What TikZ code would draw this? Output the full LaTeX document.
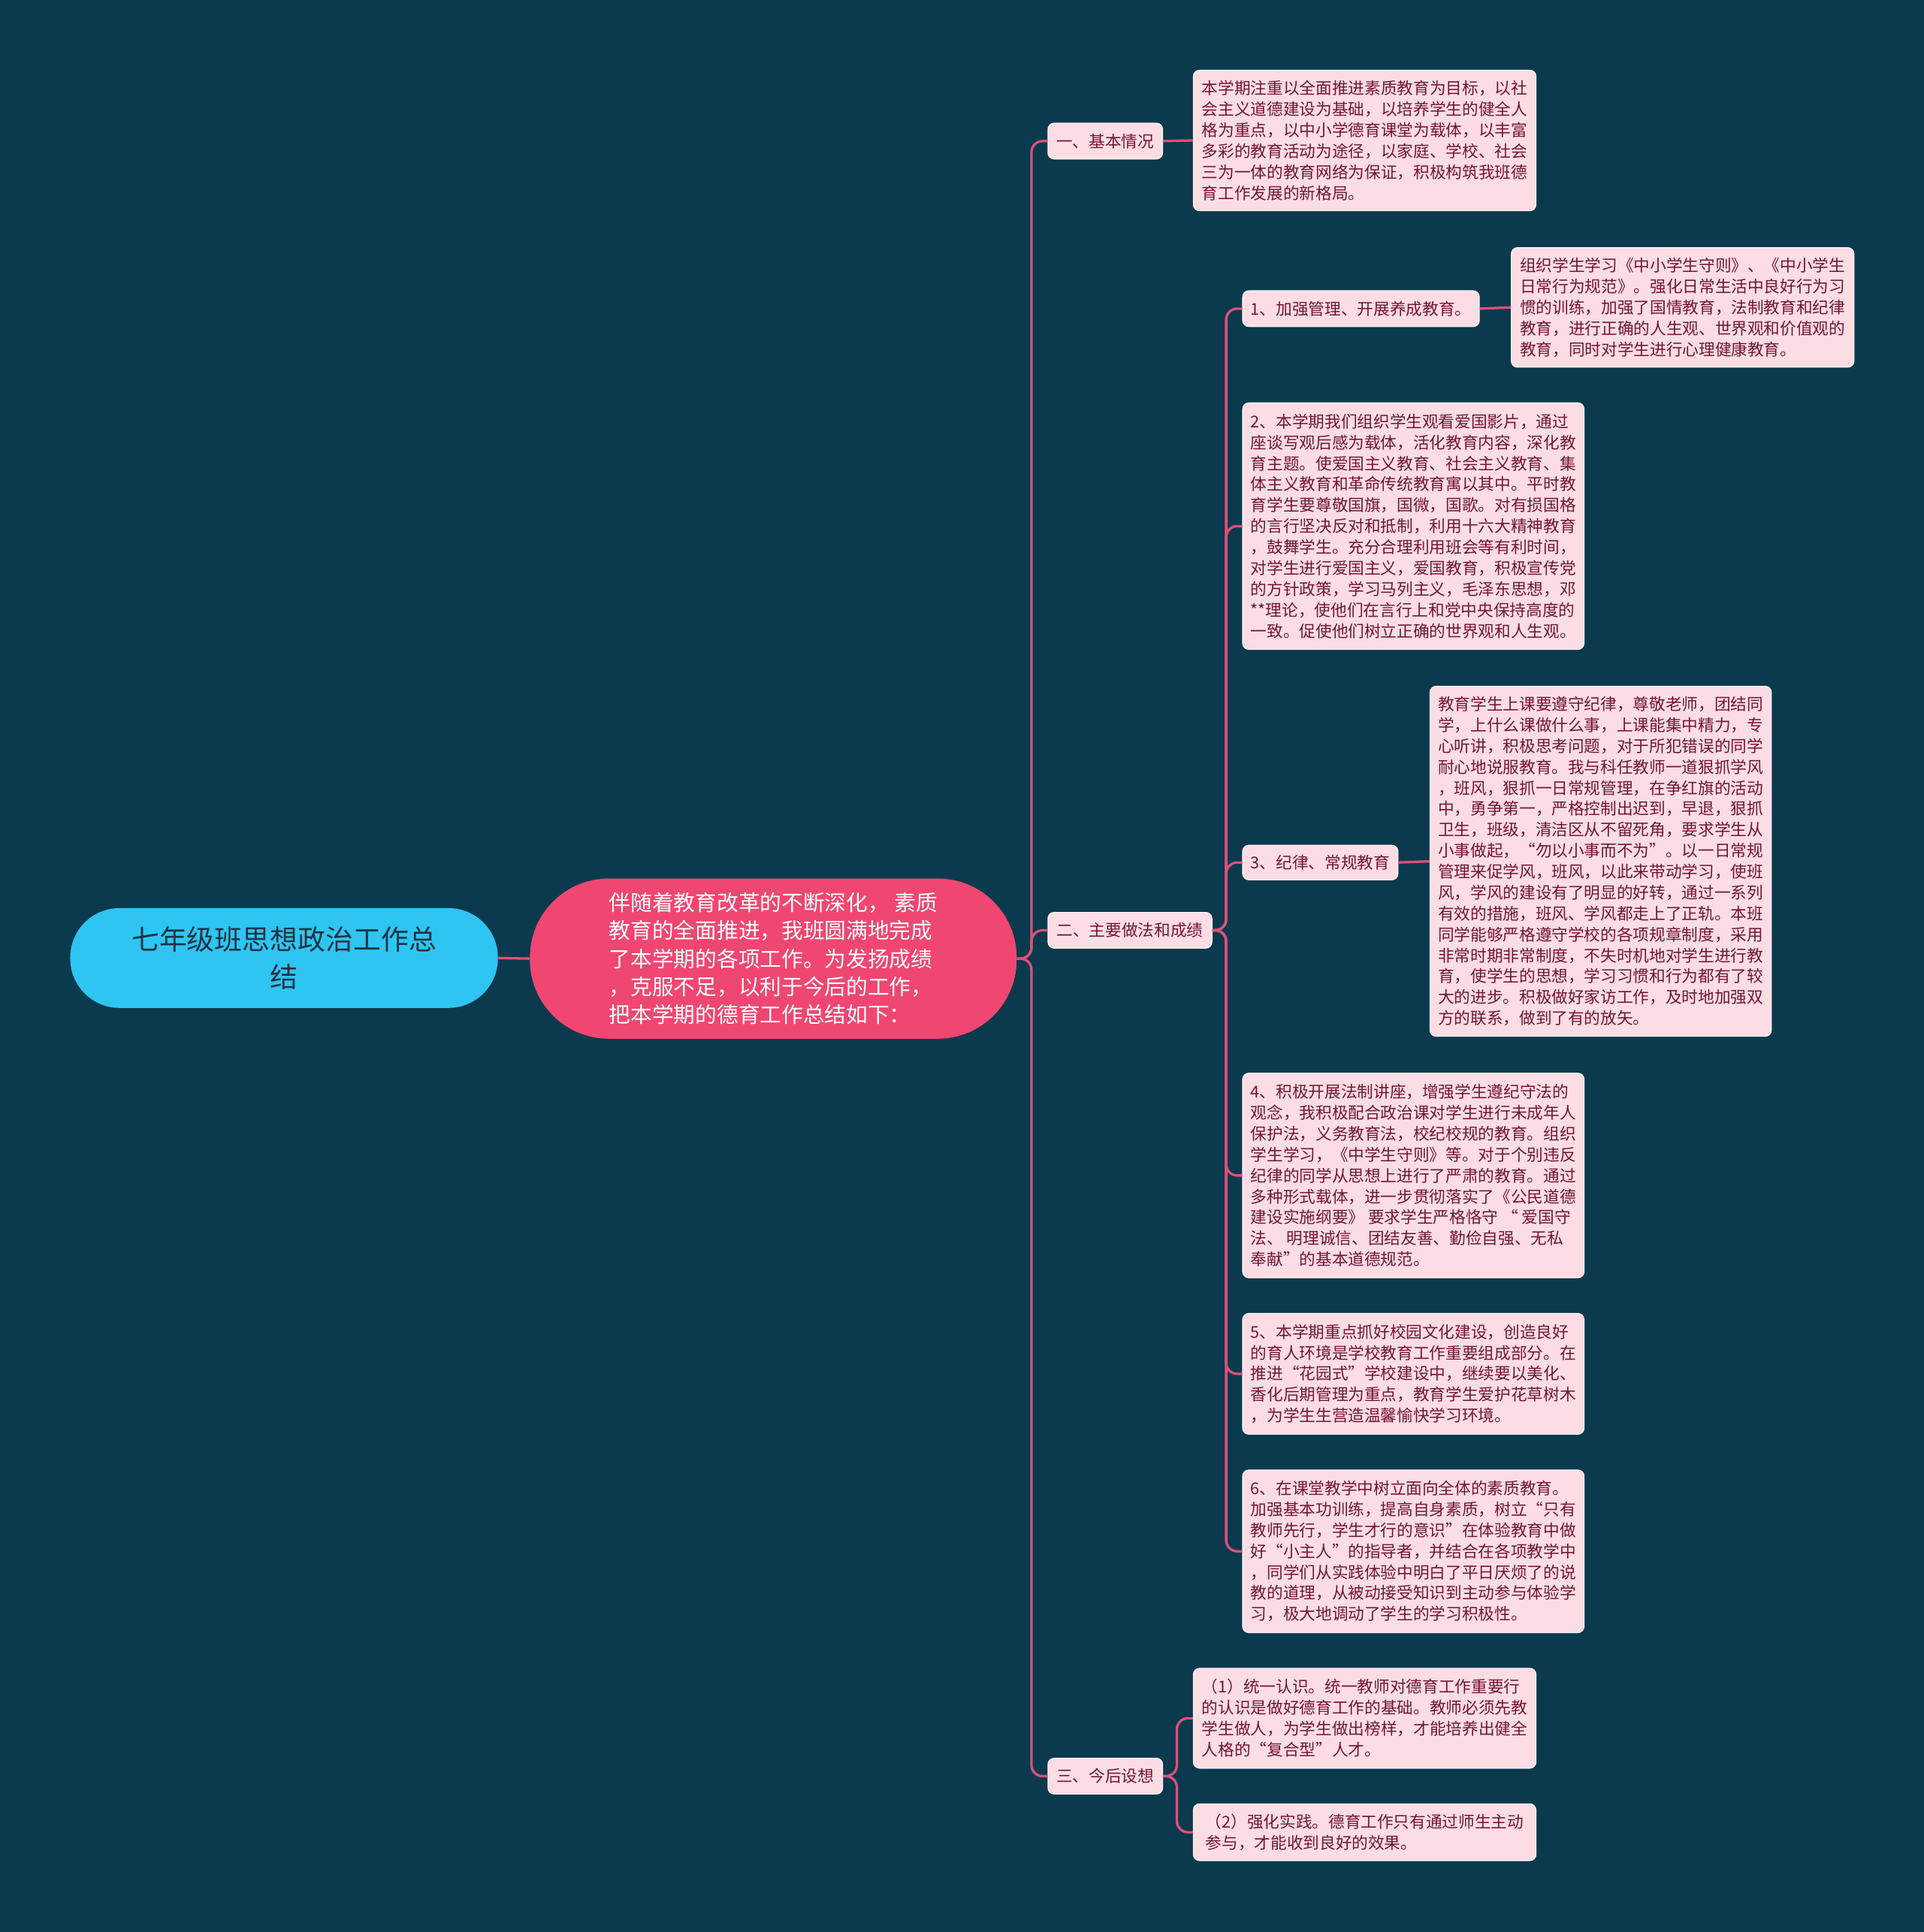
\documentclass[tikz,border=0pt]{standalone}
\usepackage{fontspec}
\setmainfont{Noto Sans CJK SC}
\definecolor{bgcol}{HTML}{0B3A4E}
\definecolor{linkcol}{HTML}{DE5079}
\definecolor{rootcol}{HTML}{2EC5F3}
\definecolor{maincol}{HTML}{EF4771}
\definecolor{notecol}{HTML}{FCDDE3}
\definecolor{inkcol}{HTML}{731632}
\definecolor{rootink}{HTML}{1D3441}
\begin{document}
\begin{tikzpicture}[x=1pt,y=-1pt,
  leaf/.style={anchor=west,draw=white!55!notecol,line width=0.8pt,fill=notecol,text=inkcol,rounded corners=5pt,align=left,inner xsep=6pt,inner ysep=3pt,font=\fontsize{13.2}{17}\selectfont},
  link/.style={draw=linkcol,line width=2pt,rounded corners=9pt}]
\fill[bgcol] (0,0) rectangle (1561,1568);
\node[fill=rootcol,rounded corners=40pt,minimum width=347pt,minimum height=81pt,text=rootink,align=center,font=\fontsize{22.5}{31}\selectfont] (m0) at (230.5,777.5) {七年级班思想政治工作总\\结};
\node[fill=maincol,rounded corners=64pt,minimum width=395pt,minimum height=130pt,text=white,align=left,font=\fontsize{17.5}{22.7}\selectfont] (m1) at (627.5,778) {伴随着教育改革的不断深化， 素质\\教育的全面推进，我班圆满地完成\\了本学期的各项工作。为发扬成绩\\，克服不足，以利于今后的工作，\\把本学期的德育工作总结如下：};
\node[leaf,minimum width=93pt,minimum height=29pt] (b1) at (850,114.5) {一、基本情况};
\node[leaf,minimum width=133pt,minimum height=29pt] (b2) at (850,755) {二、主要做法和成绩};
\node[leaf,minimum width=93pt,minimum height=29pt] (b3) at (850,1441.5) {三、今后设想};
\node[leaf,minimum width=278pt,minimum height=114pt] (a1) at (968,114) {本学期注重以全面推进素质教育为目标，以社\\会主义道德建设为基础，以培养学生的健全人\\格为重点，以中小学德育课堂为载体，以丰富\\多彩的教育活动为途径，以家庭、学校、社会\\三为一体的教育网络为保证，积极构筑我班德\\育工作发展的新格局。};
\node[leaf,minimum width=192pt,minimum height=29pt] (c1) at (1008,250.5) {1、加强管理、开展养成教育。};
\node[leaf,minimum width=278pt,minimum height=97pt] (e1) at (1226,249.5) {组织学生学习《中小学生守则》、《中小学生\\日常行为规范》。强化日常生活中良好行为习\\惯的训练，加强了国情教育，法制教育和纪律\\教育，进行正确的人生观、世界观和价值观的\\教育，同时对学生进行心理健康教育。};
\node[leaf,minimum width=277pt,minimum height=200pt] (c2) at (1008,427) {2、本学期我们组织学生观看爱国影片，通过\\座谈写观后感为载体，活化教育内容，深化教\\育主题。使爱国主义教育、社会主义教育、集\\体主义教育和革命传统教育寓以其中。平时教\\育学生要尊敬国旗，国微，国歌。对有损国格\\的言行坚决反对和抵制，利用十六大精神教育\\，鼓舞学生。充分合理利用班会等有利时间，\\对学生进行爱国主义，爱国教育，积极宣传党\\的方针政策，学习马列主义，毛泽东思想，邓\\**理论，使他们在言行上和党中央保持高度的\\一致。促使他们树立正确的世界观和人生观。};
\node[leaf,minimum width=126pt,minimum height=28pt] (c3) at (1008,700) {3、纪律、常规教育};
\node[leaf,minimum width=277pt,minimum height=284pt] (e3) at (1160,699) {教育学生上课要遵守纪律，尊敬老师，团结同\\学，上什么课做什么事，上课能集中精力，专\\心听讲，积极思考问题，对于所犯错误的同学\\耐心地说服教育。我与科任教师一道狠抓学风\\，班风，狠抓一日常规管理，在争红旗的活动\\中，勇争第一，严格控制出迟到，早退，狠抓\\卫生，班级，清洁区从不留死角，要求学生从\\小事做起，“勿以小事而不为”。以一日常规\\管理来促学风，班风，以此来带动学习，使班\\风，学风的建设有了明显的好转，通过一系列\\有效的措施，班风、学风都走上了正轨。本班\\同学能够严格遵守学校的各项规章制度，采用\\非常时期非常制度，不失时机地对学生进行教\\育，使学生的思想，学习习惯和行为都有了较\\大的进步。积极做好家访工作，及时地加强双\\方的联系，做到了有的放矢。};
\node[leaf,minimum width=277pt,minimum height=166pt] (c4) at (1008,954) {4、积极开展法制讲座，增强学生遵纪守法的\\观念，我积极配合政治课对学生进行未成年人\\保护法，义务教育法，校纪校规的教育。组织\\学生学习，《中学生守则》等。对于个别违反\\纪律的同学从思想上进行了严肃的教育。通过\\多种形式载体，进一步贯彻落实了《公民道德\\建设实施纲要》 要求学生严格恪守 “ 爱国守\\法、 明理诚信、团结友善、勤俭自强、无私\\奉献”的基本道德规范。};
\node[leaf,minimum width=277pt,minimum height=98pt] (c5) at (1008,1115) {5、本学期重点抓好校园文化建设，创造良好\\的育人环境是学校教育工作重要组成部分。在\\推进“花园式”学校建设中，继续要以美化、\\香化后期管理为重点，教育学生爱护花草树木\\，为学生生营造温馨愉快学习环境。};
\node[leaf,minimum width=277pt,minimum height=132pt] (c6) at (1008,1259) {6、在课堂教学中树立面向全体的素质教育。\\加强基本功训练，提高自身素质，树立“只有\\教师先行，学生才行的意识”在体验教育中做\\好“小主人”的指导者，并结合在各项教学中\\，同学们从实践体验中明白了平日厌烦了的说\\教的道理，从被动接受知识到主动参与体验学\\习，极大地调动了学生的学习积极性。};
\node[leaf,minimum width=278pt,minimum height=81pt] (d1) at (968,1394.5) {（1）统一认识。统一教师对德育工作重要行\\的认识是做好德育工作的基础。教师必须先教\\学生做人，为学生做出榜样，才能培养出健全\\人格的“复合型”人才。};
\node[leaf,minimum width=278pt,minimum height=46pt] (d2) at (968,1487) {（2）强化实践。德育工作只有通过师生主动\\参与，才能收到良好的效果。};
\coordinate (j0) at (837,778);
\coordinate (j1) at (995,755);
\coordinate (j2) at (955,1441.5);
\draw[link] (m0.east)--(m1.west);
\draw[link] (m1.east)--(j0)|-(b1.west);
\draw[link] (m1.east)--(j0)|-(b2.west);
\draw[link] (m1.east)--(j0)|-(b3.west);
\draw[link] (b1.east)--(a1.west);
\draw[link] (b2.east)--(j1)|-(c1.west);
\draw[link] (b2.east)--(j1)|-(c2.west);
\draw[link] (b2.east)--(j1)|-(c3.west);
\draw[link] (b2.east)--(j1)|-(c4.west);
\draw[link] (b2.east)--(j1)|-(c5.west);
\draw[link] (b2.east)--(j1)|-(c6.west);
\draw[link] (c1.east)--(e1.west);
\draw[link] (c3.east)--(e3.west);
\draw[link] (b3.east)--(j2)|-(d1.west);
\draw[link] (b3.east)--(j2)|-(d2.west);
\end{tikzpicture}
\end{document}
